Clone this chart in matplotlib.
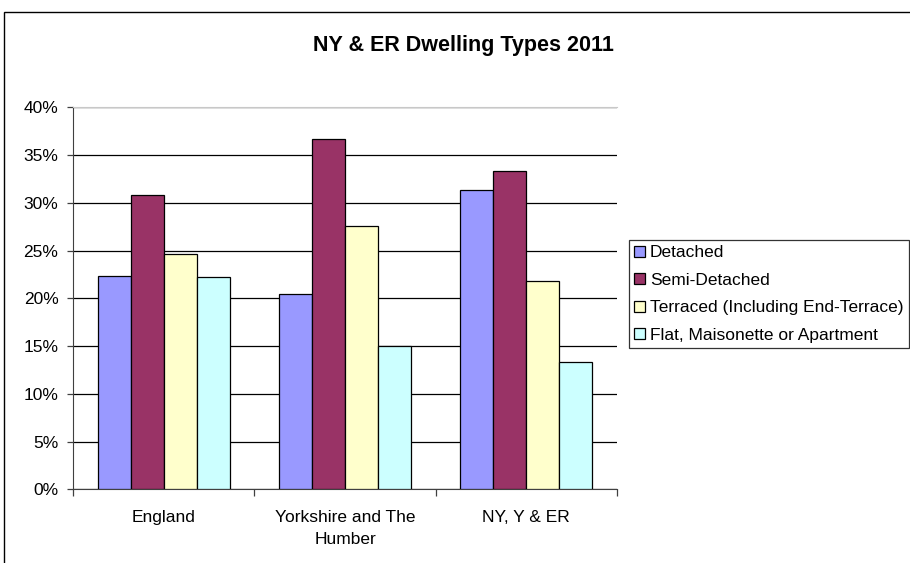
import numpy as np
import matplotlib
matplotlib.use("Agg")
import matplotlib.pyplot as plt
from matplotlib.patches import Rectangle
from matplotlib.ticker import MultipleLocator, PercentFormatter

# Data (percent of dwellings)
regions = ["England", "Yorkshire and The\nHumber", "NY, Y & ER"]
series = ["Detached", "Semi-Detached", "Terraced (Including End-Terrace)",
          "Flat, Maisonette or Apartment"]
detached = [22.3, 20.5, 31.3]
semi_detached = [30.8, 36.7, 33.3]
terraced = [24.6, 27.6, 21.8]
flat = [22.2, 15.0, 13.3]
colors = ["#9999FF", "#993366", "#FFFFCC", "#CCFFFF"]

plt.rcParams["font.family"] = ["Liberation Sans", "DejaVu Sans"]
FS = 12.5

fig = plt.figure(figsize=(9.1, 5.63), dpi=100)
W, H = 910, 563
ax = fig.add_axes([73 / W, 1 - 489.3 / H, (617 - 73) / W, (489.3 - 107.3) / H])

# outer chart frame (cropped on the right and bottom)
fig.patches.append(Rectangle((4 / W, -0.1), 1.2, (563 - 12) / H + 0.1,
                             transform=fig.transFigure, fill=False,
                             edgecolor="black", linewidth=1.0))

# Excel-style clustered columns: gap width 150%
bar_w = 1 / 5.5
x = np.arange(len(regions))
values = [detached, semi_detached, terraced, flat]
for i, (name, vals, col) in enumerate(zip(series, values, colors)):
    offs = (i - 1.5) * bar_w
    ax.bar(x + offs, vals, width=bar_w, color=col, edgecolor="black",
           linewidth=0.9, label=name, zorder=3)

ax.set_xlim(-0.5, len(regions) - 0.5)
ax.set_ylim(0, 40)
ax.yaxis.set_major_locator(MultipleLocator(5))
ax.yaxis.set_major_formatter(PercentFormatter(decimals=0))
ax.grid(axis="y", color="black", linewidth=0.9, zorder=0)

# category ticks at the boundaries, labels centered
ax.set_xticks(np.arange(-0.5, len(regions), 1.0))
ax.set_xticklabels([])
ax.tick_params(axis="x", length=5, width=0.9, color="#404040")
for xi, lab in zip(x, regions):
    ax.text(xi, -2.2, lab, ha="center", va="top", fontsize=FS,
            linespacing=1.55)
ax.tick_params(axis="y", length=4.5, width=0.9, labelsize=FS,
               color="#404040", pad=6)

ax.spines["right"].set_visible(False)
ax.spines["top"].set_color("#C8C8C8")
ax.spines["left"].set_color("#404040")
ax.spines["bottom"].set_color("#404040")

fig.text(463 / W, 1 - 46 / H, "NY & ER Dwelling Types 2011", ha="center",
         va="center", fontsize=15.5, fontweight="bold")

leg = ax.legend(loc="upper left", bbox_to_anchor=(629 / W, 1 - 240 / H),
                bbox_transform=fig.transFigure, fontsize=FS, frameon=True,
                fancybox=False, edgecolor="black", borderpad=0.3,
                handlelength=0.6, handleheight=0.6, handletextpad=0.3,
                labelspacing=0.72, borderaxespad=0)
leg.get_frame().set_linewidth(0.9)

fig.savefig("out.png", dpi=100)
